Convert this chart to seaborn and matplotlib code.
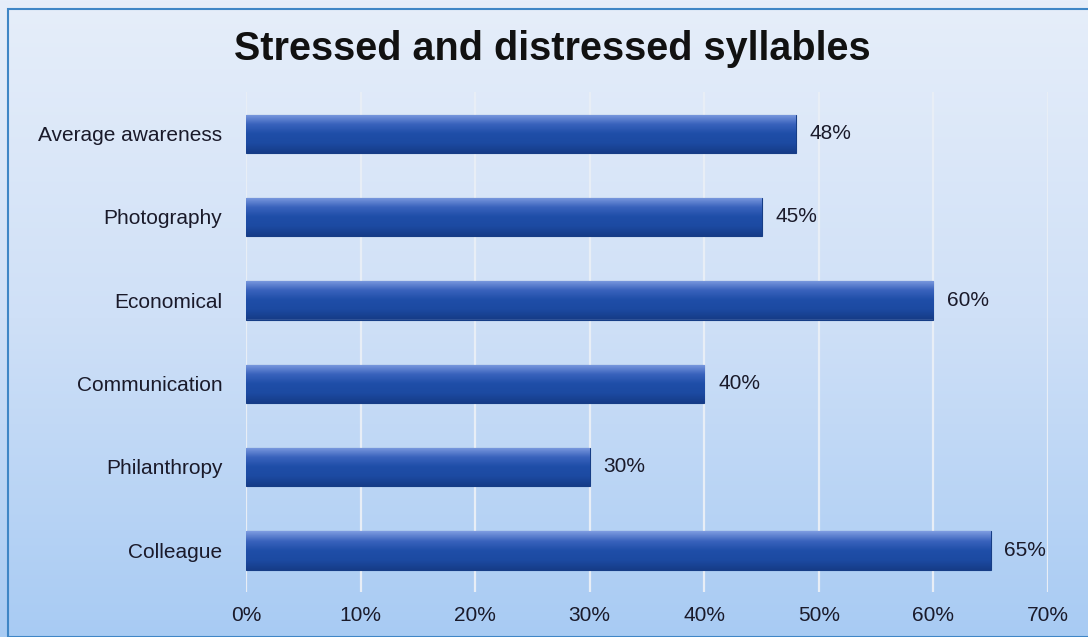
import numpy as np
import pandas as pd
import matplotlib
matplotlib.use("Agg")
import matplotlib.pyplot as plt
from matplotlib.colors import LinearSegmentedColormap
from matplotlib.patches import Rectangle
import seaborn as sns

categories = ["Average awareness", "Photography", "Economical", "Communication", "Philanthropy", "Colleague"]
values = [48, 45, 60, 40, 30, 65]
xticks = [0, 10, 20, 30, 40, 50, 60, 70]
xtick_labels = ["0%", "10%", "20%", "30%", "40%", "50%", "60%", "70%"]
title = "Stressed and distressed syllables"

sns.set_theme(style="white")
plt.rcParams["font.family"] = ["Liberation Sans", "DejaVu Sans"]

fig = plt.figure(figsize=(10.88, 6.37), dpi=100)

# background gradient
bg = fig.add_axes([0, 0, 1, 1], zorder=0)
bg_cmap = LinearSegmentedColormap.from_list("bg", ["#e6eefa", "#cfe0f7", "#a8cbf3"])
grad = np.linspace(0, 1, 256).reshape(-1, 1)
bg.imshow(grad, aspect="auto", cmap=bg_cmap, extent=[0, 1, 0, 1], origin="upper")
bg.set_xlim(0, 1); bg.set_ylim(0, 1)
bg.axis("off")
bg.add_patch(Rectangle((8 / 1088, 0), 1, 1 - 9 / 637, fill=False, edgecolor="#3f86c6", linewidth=1.5))

ax = fig.add_axes([246 / 1088, 1 - 592 / 637, (1048 - 246) / 1088, (592 - 92) / 637], zorder=1)
ax.patch.set_alpha(0)

df = pd.DataFrame({"category": categories, "value": values})
sns.barplot(data=df, x="value", y="category", orient="h", color="#1f4ea8", width=0.46, ax=ax,
            edgecolor="#163d86", linewidth=0.8, zorder=3)

fs = 15
ax.set_xlim(0, 70)
ax.set_xticks(xticks)
ax.set_xticklabels(xtick_labels, fontsize=fs, color="#1a1a2a")
ax.tick_params(axis="y", labelsize=fs, colors="#1a1a2a", length=0, pad=17)
ax.tick_params(axis="x", length=0, pad=10)
ax.set_xlabel("")
ax.set_ylabel("")
for s in ax.spines.values():
    s.set_visible(False)
ax.grid(axis="x", color="#e8eef6", linewidth=1.6, zorder=0)
ax.set_axisbelow(True)

# bar shading overlay
bar_cmap = LinearSegmentedColormap.from_list("bar", ["#163c88", "#1c4aa2", "#1f4ea8", "#3a63bd", "#7d9be0"])
for p, v in zip(ax.patches, values):
    x0, y0 = p.get_x(), p.get_y()
    w, h = p.get_width(), p.get_height()
    im = ax.imshow(np.linspace(0, 1, 64).reshape(-1, 1), cmap=bar_cmap, aspect="auto",
                   extent=[x0, x0 + w, y0 + h, y0], origin="lower", zorder=3.5, interpolation="bilinear")
    im.set_clip_path(p)
    ax.text(x0 + w + 1.2, y0 + h / 2, f"{v}%", va="center", ha="left", fontsize=fs, color="#1a1a2a", zorder=5)

ax.set_ylim(5.5, -0.5)

fig.text(552 / 1088, 1 - 49 / 637, title, ha="center", va="center", fontsize=28.5, fontweight="bold", color="#111111")

fig.savefig("out.png", dpi=100)
